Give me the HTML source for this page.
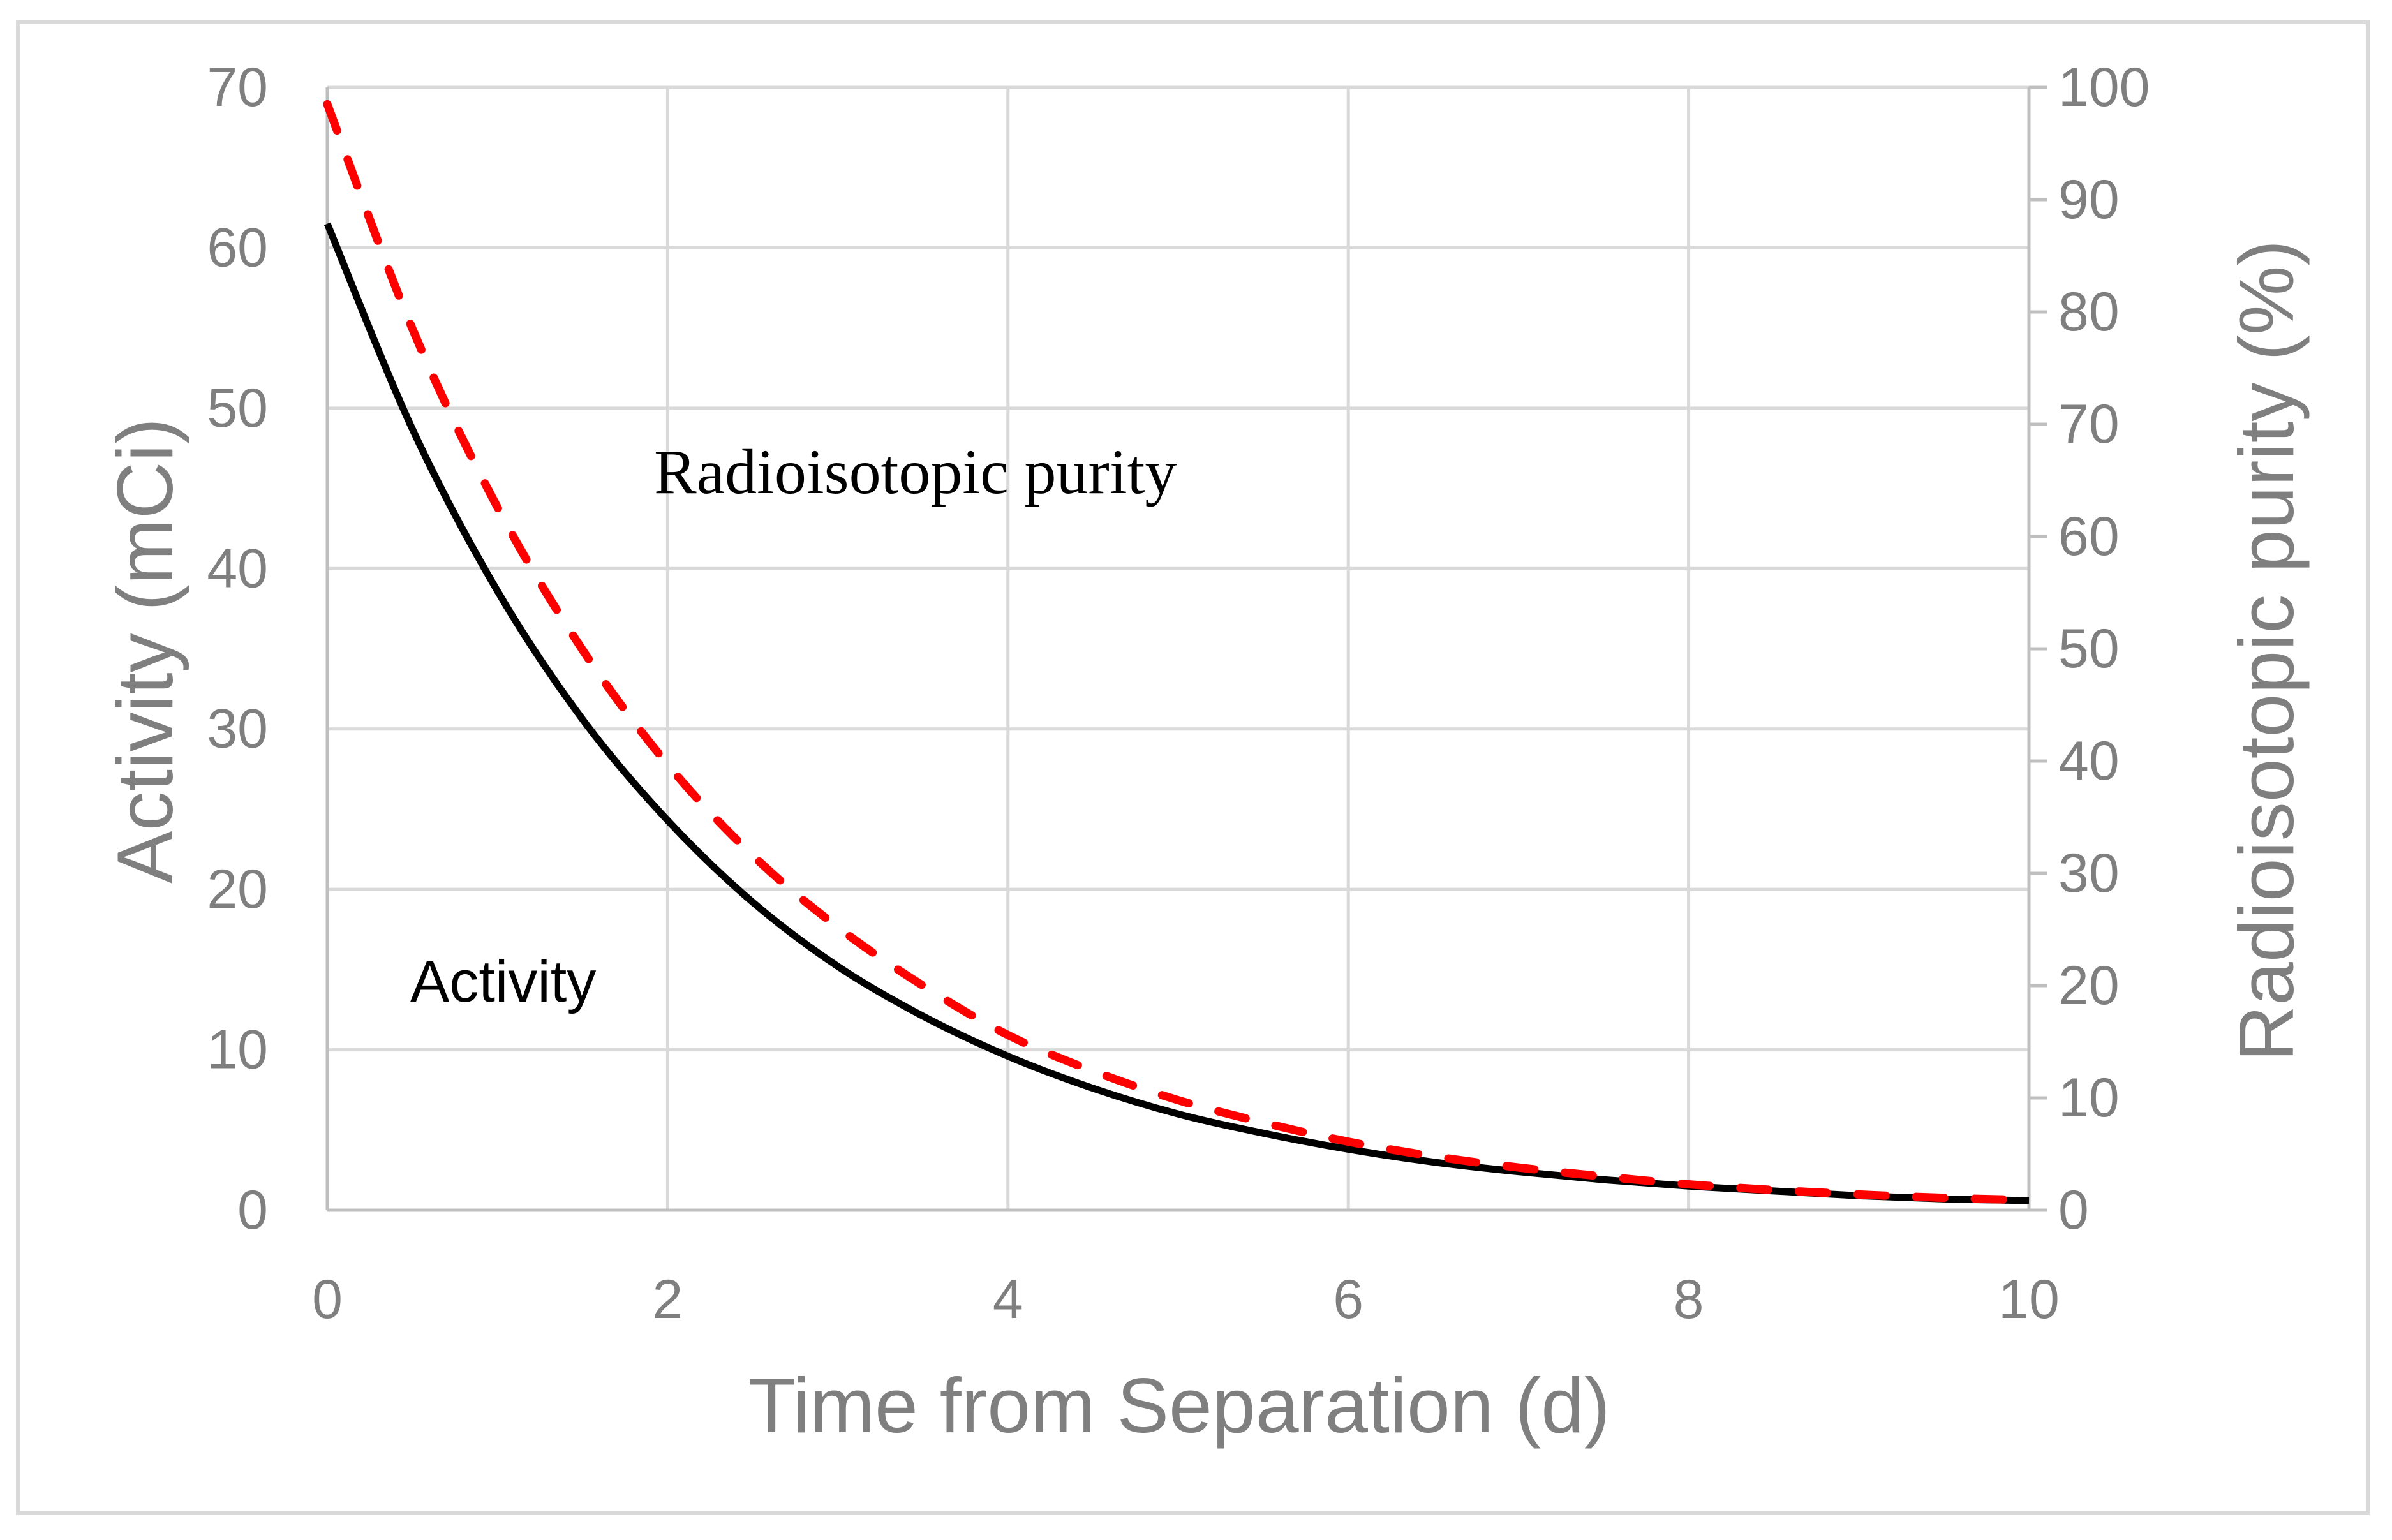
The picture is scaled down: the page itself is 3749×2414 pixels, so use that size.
<!DOCTYPE html>
<html><head><meta charset="utf-8"><style>
html,body{margin:0;padding:0;background:#fff;}
svg{display:block;}
</style></head><body>
<svg id="chart" width="3749" height="2414" viewBox="0 0 3749 2414" xmlns="http://www.w3.org/2000/svg">
<rect x="28" y="35" width="3683" height="2337" fill="#fff" stroke="#d9d9d9" stroke-width="6"/>
<g id="grid"></g>
<g id="axes"></g>
<g id="series"></g>
<text x="228" y="1020" transform="rotate(-90 228 1020)" text-anchor="middle" dominant-baseline="central" font-family="Liberation Sans, sans-serif" font-size="124" fill="#7f7f7f">Activity (mCi)</text>
<text x="3552" y="1020" transform="rotate(-90 3552 1020)" text-anchor="middle" dominant-baseline="central" font-family="Liberation Sans, sans-serif" font-size="122" fill="#7f7f7f">Radioisotopic purity (%)</text>
<text x="1848" y="2245" text-anchor="middle" font-family="Liberation Sans, sans-serif" font-size="122" fill="#7f7f7f">Time from Separation (d)</text>
<text x="1025" y="773" font-family="Liberation Serif, serif" font-size="100" fill="#000">Radioisotopic purity</text>
<text x="643" y="1570" font-family="Liberation Sans, sans-serif" font-size="92" fill="#000">Activity</text>
</svg>
<script>
const days = [0,0.5,1,1.5,2,2.5,3,3.5,4,4.5,5,5.5,6,6.5,7,7.5,8,8.5,9,9.5,10];
const activity = [61.5,48.7,38.6,30.6,24.3,19.2,15.2,12.1,9.6,7.6,6.0,4.8,3.8,3.0,2.4,1.9,1.5,1.2,0.9,0.7,0.6];
const purity = [98.5,78.5,62.6,49.9,39.7,31.6,25.2,20.0,15.6,12.4,9.8,7.8,6.1,4.8,3.8,3.0,2.3,1.8,1.4,1.1,0.9];
const xTicks = [0,2,4,6,8,10];
const yLeftTicks = [0,10,20,30,40,50,60,70];
const yRightTicks = [0,10,20,30,40,50,60,70,80,90,100];

const NS='http://www.w3.org/2000/svg';
const L=513,R=3180,T=137,B=1897;
const xs=v=>L+(v-0)/(10-0)*(R-L);
const yl=v=>B-(v/70)*(B-T);
const yr=v=>B-(v/100)*(B-T);
function mk(tag,attrs,parent){const e=document.createElementNS(NS,tag);for(const k in attrs)e.setAttribute(k,attrs[k]);parent.appendChild(e);return e;}
const grid=document.getElementById('grid'),axes=document.getElementById('axes'),series=document.getElementById('series');
const font='Liberation Sans, sans-serif';
yLeftTicks.forEach(v=>{
  if(v>0){const g=mk('line',{x1:L,x2:R,y1:yl(v),y2:yl(v),stroke:'#d9d9d9','stroke-width':5},grid);
  
  }
  const t=mk('text',{x:420,y:yl(v),'text-anchor':'end','dominant-baseline':'central','font-family':font,'font-size':86,fill:'#7f7f7f'},axes);
  t.textContent=v;
  
  
});
xTicks.forEach(v=>{
  if(v>0){const g=mk('line',{x1:xs(v),x2:xs(v),y1:T,y2:B,stroke:'#d9d9d9','stroke-width':5},grid);
  
  }
  const t=mk('text',{x:xs(v),y:2066,'text-anchor':'middle','font-family':font,'font-size':86,fill:'#7f7f7f'},axes);
  t.textContent=v;
  
  
});
yRightTicks.forEach(v=>{
  const k=mk('line',{x1:R,x2:R+28,y1:yr(v),y2:yr(v),stroke:'#bfbfbf','stroke-width':5},axes);
  
  
  const t=mk('text',{x:3226,y:yr(v),'dominant-baseline':'central','font-family':font,'font-size':86,fill:'#7f7f7f'},axes);
  t.textContent=v;
  
  
});
const ax1=mk('line',{x1:L,x2:L,y1:T,y2:B,stroke:'#bfbfbf','stroke-width':5},axes);


const ax2=mk('line',{x1:R,x2:R,y1:T,y2:B,stroke:'#bfbfbf','stroke-width':5},axes);


const ax3=mk('line',{x1:L,x2:R+28,y1:B,y2:B,stroke:'#bfbfbf','stroke-width':5},axes);


function smooth(pts){
  let d='M'+pts[0][0]+','+pts[0][1];
  for(let i=0;i<pts.length-1;i++){
    const p0=pts[Math.max(0,i-1)],p1=pts[i],p2=pts[i+1],p3=pts[Math.min(pts.length-1,i+2)];
    const c1=[p1[0]+(p2[0]-p0[0])/6,p1[1]+(p2[1]-p0[1])/6];
    const c2=[p2[0]-(p3[0]-p1[0])/6,p2[1]-(p3[1]-p1[1])/6];
    d+=' C'+c1[0]+','+c1[1]+' '+c2[0]+','+c2[1]+' '+p2[0]+','+p2[1];
  }
  return d;
}
const pA=mk('path',{d:smooth(days.map((d,i)=>[xs(d),yl(activity[i])])),fill:'none',stroke:'#000','stroke-width':11},series);


const pP=mk('path',{d:smooth(days.map((d,i)=>[xs(d),yr(purity[i])])),fill:'none',stroke:'#ff0000','stroke-width':13,'stroke-dasharray':'44 48','stroke-linecap':'round'},series);


</script>
</body></html>
